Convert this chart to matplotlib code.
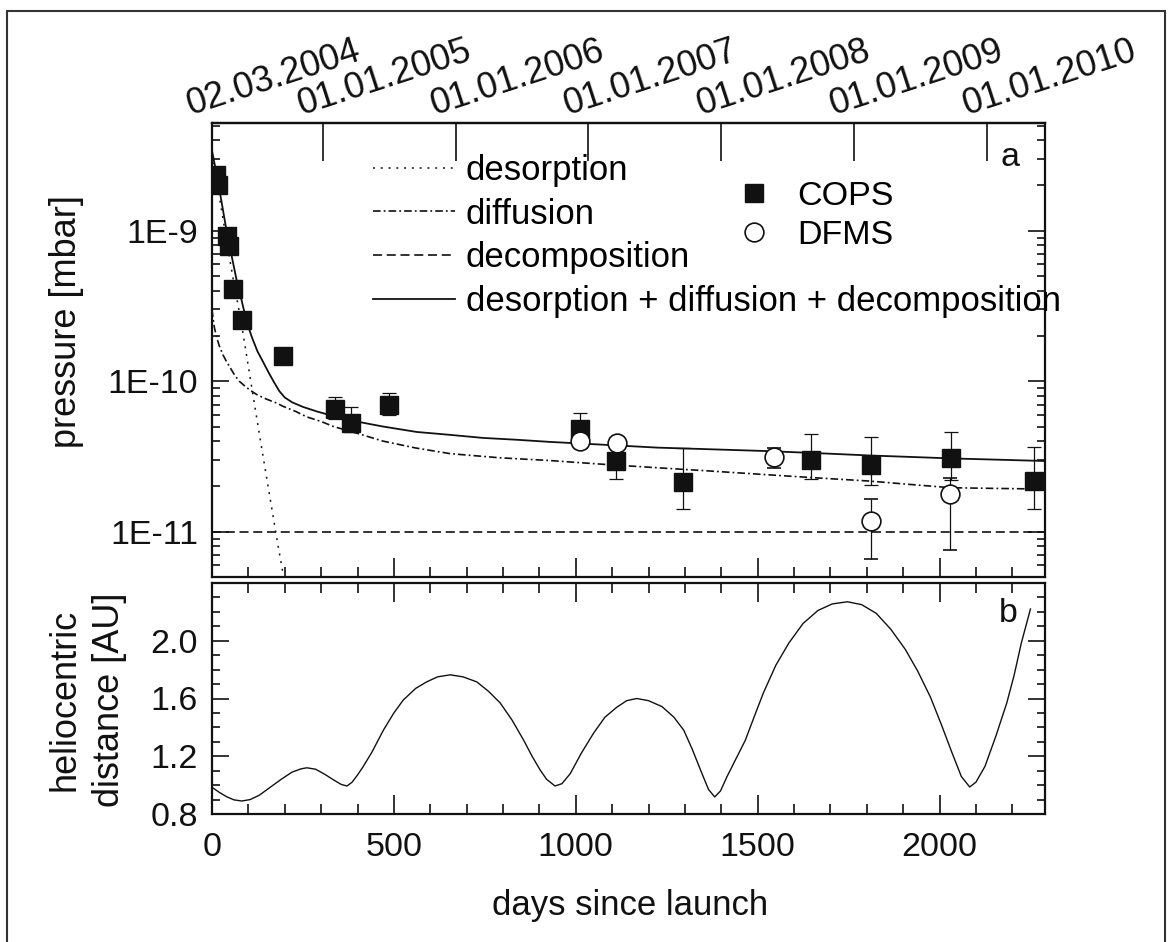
import matplotlib
matplotlib.use('Agg')
import numpy as np
import matplotlib.pyplot as plt
from matplotlib.ticker import FixedLocator, MultipleLocator, LogLocator, NullFormatter
from matplotlib.transforms import offset_copy
from matplotlib.patches import Rectangle
from matplotlib.lines import Line2D

plt.rcParams['font.family'] = ['Liberation Sans', 'DejaVu Sans']
plt.rcParams['lines.scale_dashes'] = False

# ---------------- data ----------------
cops_days = [12, 16, 40, 46, 57, 82, 195, 338, 382, 487, 1012, 1111, 1295, 1646, 1811, 2031, 2259]
cops_p = [2.35e-9, 2.0e-9, 9.2e-10, 7.9e-10, 4.1e-10, 2.57e-10, 1.46e-10, 6.56e-11, 5.24e-11,
          6.97e-11, 4.83e-11, 2.95e-11, 2.14e-11, 2.98e-11, 2.77e-11, 3.07e-11, 2.17e-11]
cops_lo = [np.nan, np.nan, np.nan, np.nan, np.nan, np.nan, np.nan, 5.6e-11, 4.6e-11,
           6.0e-11, 3.6e-11, 2.23e-11, 1.41e-11, 2.25e-11, 2.03e-11, 2.2e-11, 1.42e-11]
cops_hi = [np.nan, np.nan, np.nan, np.nan, np.nan, np.nan, np.nan, 7.9e-11, 6.7e-11,
           8.4e-11, 6.15e-11, 3.7e-11, 3.6e-11, 4.48e-11, 4.28e-11, 4.6e-11, 3.65e-11]

dfms_days = [1012, 1114, 1546, 1811, 2028]
dfms_p = [4.0e-11, 3.9e-11, 3.15e-11, 1.18e-11, 1.77e-11]
dfms_lo = [np.nan, np.nan, 2.65e-11, 6.55e-12, 7.55e-12]
dfms_hi = [np.nan, np.nan, 3.6e-11, 1.66e-11, 2.29e-11]

des_days = [0, 20, 40, 60, 80, 100, 120, 140, 160, 180, 197]
des_p = [3.2e-9, 1.7e-9, 8.6e-10, 4.5e-10, 2.5e-10, 1.25e-10, 6.3e-11, 3.2e-11, 1.65e-11, 8.5e-12, 5.0e-12]

dif_days = [0, 3, 7, 13, 20, 30, 40, 50, 62, 75, 90, 105, 125, 150, 175, 196, 230, 260, 300, 334,
            400, 470, 560, 655, 790, 930, 1080, 1225, 1370, 1516, 1660, 1808, 1920, 2031, 2150, 2290]
dif_p = [3.0e-10, 2.6e-10, 2.25e-10, 1.95e-10, 1.72e-10, 1.5e-10, 1.35e-10, 1.23e-10, 1.1e-10,
         1.0e-10, 9.3e-11, 8.7e-11, 8.1e-11, 7.6e-11, 7.2e-11, 6.8e-11, 6.3e-11, 5.8e-11, 5.4e-11,
         5.0e-11, 4.5e-11, 4.0e-11, 3.6e-11, 3.3e-11, 3.1e-11, 2.97e-11, 2.8e-11, 2.66e-11,
         2.53e-11, 2.4e-11, 2.28e-11, 2.17e-11, 2.06e-11, 1.96e-11, 1.94e-11, 1.92e-11]

dec_days = [0, 2290]
dec_p = [1.0e-11, 1.0e-11]

tot_days = [0, 10, 20, 30, 40, 54, 68, 82, 95, 110, 125, 140, 155, 170, 185, 200, 220, 250, 288,
            330, 380, 470, 563, 655, 745, 840, 930, 1080, 1225, 1370, 1516, 1660, 1808, 1920,
            2031, 2160, 2290]
tot_p = [3.4e-9, 2.57e-9, 1.9e-9, 1.38e-9, 1.0e-9, 6.8e-10, 4.66e-10, 3.4e-10, 2.5e-10, 1.95e-10,
         1.58e-10, 1.35e-10, 1.15e-10, 9.9e-11, 8.6e-11, 7.8e-11, 7.25e-11, 6.75e-11, 6.3e-11,
         5.9e-11, 5.5e-11, 5.0e-11, 4.6e-11, 4.4e-11, 4.2e-11, 4.08e-11, 3.95e-11, 3.78e-11,
         3.62e-11, 3.53e-11, 3.44e-11, 3.33e-11, 3.21e-11, 3.14e-11, 3.07e-11, 3.01e-11, 2.95e-11]

helio_days = [0, 20, 40, 60, 82, 105, 130, 160, 190, 220, 245, 261, 285, 310, 335, 355, 371, 385,
              400, 416, 440, 471, 500, 526, 560, 590, 620, 655, 690, 728, 760, 792, 825, 857, 880,
              902, 920, 943, 962, 985, 1015, 1049, 1080, 1113, 1140, 1168, 1200, 1237, 1270, 1297,
              1320, 1347, 1365, 1382, 1398, 1416, 1440, 1466, 1490, 1516, 1550, 1586, 1625, 1666,
              1705, 1747, 1786, 1826, 1866, 1906, 1940, 1975, 2005, 2035, 2060, 2083, 2100, 2125,
              2155, 2185, 2205, 2225, 2250]
helio_r = [0.985, 0.95, 0.92, 0.898, 0.89, 0.90, 0.93, 0.985, 1.04, 1.09, 1.113, 1.12, 1.11, 1.075,
           1.035, 1.005, 0.994, 1.02, 1.07, 1.13, 1.23, 1.38, 1.50, 1.59, 1.67, 1.715, 1.75, 1.764,
           1.75, 1.715, 1.65, 1.57, 1.45, 1.31, 1.2, 1.105, 1.04, 0.994, 1.01, 1.08, 1.22, 1.36,
           1.47, 1.54, 1.585, 1.60, 1.585, 1.544, 1.47, 1.38, 1.25, 1.08, 0.97, 0.918, 0.96, 1.06,
           1.18, 1.31, 1.47, 1.64, 1.83, 1.985, 2.12, 2.21, 2.255, 2.27, 2.25, 2.19, 2.08, 1.94,
           1.79, 1.61, 1.42, 1.22, 1.06, 0.987, 1.02, 1.13, 1.34, 1.57, 1.76, 1.985, 2.22]

date_days = [0, 305, 670, 1035, 1400, 1766, 2131]
date_labels = ['02.03.2004', '01.01.2005', '01.01.2006', '01.01.2007',
               '01.01.2008', '01.01.2009', '01.01.2010']

p_ticks = [1e-11, 1e-10, 1e-9]
p_ticklabels = ['1E-11', '1E-10', '1E-9']
r_ticks = [0.8, 1.2, 1.6, 2.0]
r_ticklabels = ['0.8', '1.2', '1.6', '2.0']

# ---------------- figure ----------------
W, H = 1168, 942
fig = plt.figure(figsize=(W / 100, H / 100), dpi=100)
fig.patch.set_facecolor('white')


def rect(l, t, r, b):
    return [l / W, 1 - b / H, (r - l) / W, (b - t) / H]


ax = fig.add_axes(rect(212, 123, 1045, 577))
bx = fig.add_axes(rect(212, 583, 1045, 814))

FS = 24.5
LFS = 25.0
K = '#111111'
SW = 1.6

for a in (ax, bx):
    for s in a.spines.values():
        s.set_linewidth(SW)
        s.set_color(K)

# ---- top panel ----
ax.set_yscale('log')
ax.set_xlim(0, 2290)
ax.set_ylim(5e-12, 5.2e-9)

ebkw = dict(ecolor=K, elinewidth=0.9, capsize=5, capthick=0.9, linestyle='none')
ax.errorbar(cops_days, cops_p,
            yerr=[np.array(cops_p) - np.array(cops_lo), np.array(cops_hi) - np.array(cops_p)],
            marker='s', ms=12.5, mfc=K, mec=K, zorder=4, **ebkw)
ax.errorbar(dfms_days, dfms_p,
            yerr=[np.array(dfms_p) - np.array(dfms_lo), np.array(dfms_hi) - np.array(dfms_p)],
            marker='o', ms=13.5, mfc='white', mec=K, mew=1.2, zorder=5, **ebkw)

l_des, = ax.plot(des_days, des_p, color=K, lw=1.1, linestyle=(0, (1.4, 4.2)))
l_dif, = ax.plot(dif_days, dif_p, color=K, lw=1.2, linestyle=(0, (5.5, 2.2, 1.3, 2.2)))
l_dec, = ax.plot(dec_days, dec_p, color=K, lw=1.2, linestyle=(0, (6.5, 3.4)))
l_tot, = ax.plot(tot_days, tot_p, color=K, lw=1.3, linestyle='-')

ax.yaxis.set_major_locator(FixedLocator(p_ticks))
ax.set_yticklabels(p_ticklabels)
ax.yaxis.set_minor_locator(LogLocator(base=10, subs=range(2, 10), numticks=20))
ax.yaxis.set_minor_formatter(NullFormatter())
ax.xaxis.set_major_locator(MultipleLocator(500))
ax.xaxis.set_minor_locator(MultipleLocator(100))
ax.tick_params(axis='y', which='both', direction='in', left=True, right=True,
               labelsize=FS, pad=10, colors=K)
ax.tick_params(axis='y', which='major', length=12, width=1.2)
ax.tick_params(axis='y', which='minor', length=6, width=1.2)
ax.tick_params(axis='x', which='both', direction='in', bottom=True, top=False,
               labelbottom=False, colors=K)
ax.tick_params(axis='x', which='major', length=14, width=1.2)
ax.tick_params(axis='x', which='minor', length=7, width=1.2)

sec = ax.secondary_xaxis('top')
sec.set_xticks(date_days)
sec.set_xticklabels([])
sec.tick_params(axis='x', which='major', direction='in', length=27, width=1.2, colors=K)
sec.spines['top'].set_linewidth(SW)

xtr = ax.get_xaxis_transform()
for d, lab in zip(date_days, date_labels):
    ax.text(d, 1.0, lab, transform=offset_copy(xtr, fig=fig, x=-21, y=8, units='dots'),
            ha='left', va='baseline', rotation=18, rotation_mode='anchor',
            fontsize=26, color=K, clip_on=False)

leg1 = ax.legend([l_des, l_dif, l_dec, l_tot],
                 ['desorption', 'diffusion', 'decomposition',
                  'desorption + diffusion + decomposition'],
                 loc='upper left', bbox_to_anchor=(0.193, 0.932), frameon=False,
                 fontsize=LFS, handlelength=2.36, handletextpad=0.32, labelspacing=0.31,
                 borderpad=0, borderaxespad=0)
ax.add_artist(leg1)
h_cops = Line2D([], [], linestyle='none', marker='s', ms=12.5, mfc=K, mec=K)
h_dfms = Line2D([], [], linestyle='none', marker='o', ms=13.5, mfc='white', mec=K, mew=1.2)
ax.legend([h_cops, h_dfms], ['COPS', 'DFMS'], loc='upper left',
          bbox_to_anchor=(0.63, 0.873), frameon=False, fontsize=FS,
          handlelength=1.0, handletextpad=0.78, labelspacing=0.24,
          borderpad=0, borderaxespad=0)

ax.text(0.958, 0.925, 'a', transform=ax.transAxes, ha='center', va='center',
        fontsize=FS, color=K)

# ---- bottom panel ----
bx.plot(helio_days, helio_r, color=K, lw=1.0)
bx.set_xlim(0, 2290)
bx.set_ylim(0.8, 2.4)
bx.yaxis.set_major_locator(FixedLocator(r_ticks))
bx.set_yticklabels(r_ticklabels)
bx.yaxis.set_minor_locator(MultipleLocator(0.1))
bx.xaxis.set_major_locator(MultipleLocator(500))
bx.xaxis.set_minor_locator(MultipleLocator(100))
bx.tick_params(axis='both', which='both', direction='in', left=True, right=True,
               top=True, bottom=True, labelsize=FS, colors=K)
bx.tick_params(axis='y', which='major', length=12, width=1.2, pad=10)
bx.tick_params(axis='y', which='minor', length=6, width=1.2)
bx.tick_params(axis='x', which='major', length=14, width=1.2, pad=13)
bx.tick_params(axis='x', which='minor', length=7, width=1.2)
bx.text(0.956, 0.87, 'b', transform=bx.transAxes, ha='center', va='center',
        fontsize=FS, color=K)

# ---- axis titles ----
fig.text(67 / W, 1 - 322 / H, 'pressure [mbar]', rotation=90, ha='center', va='center',
         fontsize=26, color=K)
fig.text(87 / W, 1 - 700 / H, 'heliocentric\ndistance [AU]', rotation=90, ha='center',
         va='center', fontsize=26, color=K, linespacing=1.35, multialignment='center')
fig.text(630 / W, 1 - 905 / H, 'days since launch', ha='center', va='center',
         fontsize=25, color=K)

# outer frame
fig.add_artist(Rectangle((7 / W, -0.02), (1165 - 7) / W, 1.02 - 11 / H,
                         transform=fig.transFigure, fill=False, lw=1.5, edgecolor='#333333'))

fig.savefig('out.png', dpi=100, facecolor='white')
